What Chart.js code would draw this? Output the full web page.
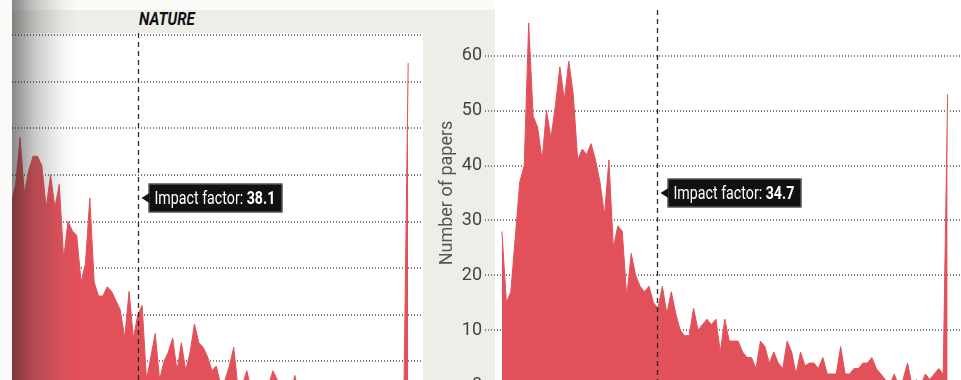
<!DOCTYPE html>
<html>
<head>
<meta charset="utf-8">
<script src="https://cdn.jsdelivr.net/npm/chart.js@4.4.1/dist/chart.umd.min.js"></script>
<style>
  html, body { margin: 0; padding: 0; width: 961px; height: 380px; overflow: hidden; background: #fafaf9; }
  #beige { position: absolute; left: 12px; top: 10px; width: 483px; height: 370px; background: #eeeee8; }
  #leftWhite { position: absolute; left: 12px; top: 33px; width: 411px; height: 347px; background: #fff; }
  #rightWhite { position: absolute; left: 495px; top: 0; width: 466px; height: 380px; background: #fff; }
  #natureTitle { position: absolute; left: 139px; top: 8px; font: italic bold 18px Roboto, sans-serif; color: #111;
    transform: scaleX(0.84); transform-origin: left top; }
  #leftChart { position: absolute; left: 12px; top: 0; }
  #rightChart { position: absolute; left: 436px; top: -30px; }
  #shade { position: absolute; left: 12px; top: 0; width: 64px; height: 380px; pointer-events: none;
    background: linear-gradient(to right, rgba(40,35,35,0.55), rgba(60,60,60,0.28) 35%, rgba(90,90,90,0.08) 75%, rgba(0,0,0,0)); }
</style>
</head>
<body>
<div id="beige"></div>
<div id="leftWhite"></div>
<div id="rightWhite"></div>
<div id="natureTitle">NATURE</div>
<canvas id="leftChart" width="411" height="420"></canvas>
<canvas id="rightChart" width="525" height="450"></canvas>
<div id="shade"></div>
<script>
// citations per paper (x), number of papers (y)
const natureCitations = range(9, 100);
const natureCounts = [
  44, 48, 58, 46, 51, 54, 54, 52, 43, 50,
  43, 48, 32, 40, 38, 37, 27, 31, 45, 27,
  24, 24, 26, 25, 23, 21, 15, 25, 15, 20,
  22, 6, 11, 16, 6, 10, 12, 15, 8, 14,
  8, 12, 18, 14, 13, 11, 8, 9, 5, 6,
  9, 13, 4, 5, 8, 4, 3, 4, 3, 5,
  8, 6, 3, 4, 2, 7, 3, 2, 4, 3,
  2, 3, 1, 4, 2, 3, 1, 2, 3, 1,
  2, 1, 2, 0, 1, 2, 1, 0, 1, 2,
  1, 74
];
const scienceCitations = range(0, 100);
const scienceCounts = [
  28, 15, 17, 27, 37, 40, 66, 49, 47, 41,
  50, 45, 51, 58, 52, 59, 53, 41, 43, 42,
  44, 41, 37, 31, 41, 25, 29, 28, 16, 24,
  20, 18, 17, 18, 15, 14, 18, 13, 17, 13,
  10, 9, 9, 14, 10, 11, 12, 11, 12, 6,
  12, 8, 8, 8, 6, 5, 5, 3, 8, 7,
  4, 6, 4, 3, 8, 6, 2, 6, 3.5, 4,
  4, 3, 5, 2, 2, 2, 7, 2, 2, 3,
  3, 4, 4, 5, 3, 2, 1, 0, 2, 0,
  1, 4, 0, 1, 0, 2, 1, 2, 3, 2,
  53
];
const natureTicks = [10, 20, 30, 40, 50, 60, 70, 80];
const scienceTicks = [0, 10, 20, 30, 40, 50, 60];
const natureImpact = 38.1;
const scienceImpact = 34.7;

function range(a, b) {
  const out = [];
  for (let i = a; i <= b; i++) out.push(i);
  return out;
}

const RED = '#e2505a';
const labelFont = 'Roboto, sans-serif';
const squeeze = 0.79; // condensed look for the tag text

// dashed impact-factor line with its black tag
const impactLine = {
  id: 'impactLine',
  afterDatasetsDraw(chart, args, opts) {
    const {ctx, scales: {x, y}} = chart;
    const px = Math.round(x.getPixelForValue(opts.value)) + 0.5;
    ctx.save();
    ctx.strokeStyle = '#2a2a2a';
    ctx.lineWidth = 1.3;
    ctx.setLineDash([5, 4]);
    ctx.beginPath();
    ctx.moveTo(px, opts.top);
    ctx.lineTo(px, chart.height);
    ctx.stroke();
    ctx.setLineDash([]);

    const cy = Math.round(y.getPixelForValue(opts.labelAt));
    const t1 = 'Impact factor: ';
    const t2 = String(opts.value);
    ctx.font = '18px ' + labelFont;
    const w1 = ctx.measureText(t1).width * squeeze;
    ctx.font = 'bold 18px ' + labelFont;
    const w2 = ctx.measureText(t2).width * squeeze;
    const bx = px + 10, bw = Math.round(w1 + w2 + 13), bh = 29;
    ctx.fillStyle = '#111';
    ctx.strokeStyle = '#777';
    ctx.lineWidth = 1;
    ctx.fillRect(bx, cy - bh / 2, bw, bh);
    ctx.strokeRect(bx + 0.5, cy - bh / 2 + 0.5, bw - 1, bh - 1);
    ctx.beginPath();
    ctx.moveTo(bx + 1, cy - 5);
    ctx.lineTo(px + 3, cy);
    ctx.lineTo(bx + 1, cy + 5);
    ctx.closePath();
    ctx.fill();
    ctx.fillStyle = '#fff';
    ctx.textBaseline = 'middle';
    ctx.translate(bx + 6, cy + 1);
    ctx.scale(squeeze, 1);
    ctx.font = '18px ' + labelFont;
    ctx.fillText(t1, 0, 0);
    ctx.font = 'bold 18px ' + labelFont;
    ctx.fillText(t2, w1 / squeeze, 0);
    ctx.restore();
  }
};

function points(xs, ys) {
  return xs.map((c, i) => ({x: c, y: ys[i]}));
}

function gridY(ticks) {
  return {
    afterBuildTicks: s => { s.ticks = ticks.map(v => ({value: v})); },
    grid: { color: '#7c7c7c', lineWidth: 2, drawTicks: false },
    border: { display: false, dash: [1, 2] }
  };
}

function series(xs, ys) {
  return {
    data: points(xs, ys),
    fill: 'origin',
    backgroundColor: RED,
    borderColor: RED,
    borderWidth: 1,
    pointRadius: 0,
    tension: 0
  };
}

new Chart(document.getElementById('leftChart').getContext('2d'), {
  type: 'line',
  data: { datasets: [series(natureCitations, natureCounts)] },
  options: {
    responsive: false,
    animation: false,
    layout: { padding: { top: 35, bottom: 12, left: 0, right: 0 } },
    scales: {
      x: { type: 'linear', min: 9.16, max: 103.4, display: false },
      y: Object.assign({ min: 0, max: 80, ticks: { display: false } }, gridY(natureTicks))
    },
    plugins: {
      legend: { display: false },
      tooltip: { enabled: false },
      impactLine: { value: natureImpact, top: 33, labelAt: 45 }
    }
  },
  plugins: [impactLine]
});

new Chart(document.getElementById('rightChart').getContext('2d'), {
  type: 'line',
  data: { datasets: [series(scienceCitations, scienceCounts)] },
  options: {
    responsive: false,
    animation: false,
    layout: { padding: { top: 31, bottom: 35, left: 0, right: 0 } },
    scales: {
      x: { type: 'linear', min: -3.8, max: 103.0, display: false },
      y: Object.assign({
        min: 0, max: 70,
        afterFit: s => { s.width = 49; },
        ticks: { color: '#444', padding: 3, font: { family: 'Roboto, sans-serif', size: 18 } },
        title: {
          display: true,
          text: 'Number of papers',
          color: '#555',
          padding: { top: 1, bottom: 0 },
          font: { family: 'Roboto, sans-serif', size: 18 }
        }
      }, gridY(scienceTicks))
    },
    plugins: {
      legend: { display: false },
      tooltip: { enabled: false },
      impactLine: { value: scienceImpact, top: 40, labelAt: 35 }
    }
  },
  plugins: [impactLine]
});
</script>
</body>
</html>
